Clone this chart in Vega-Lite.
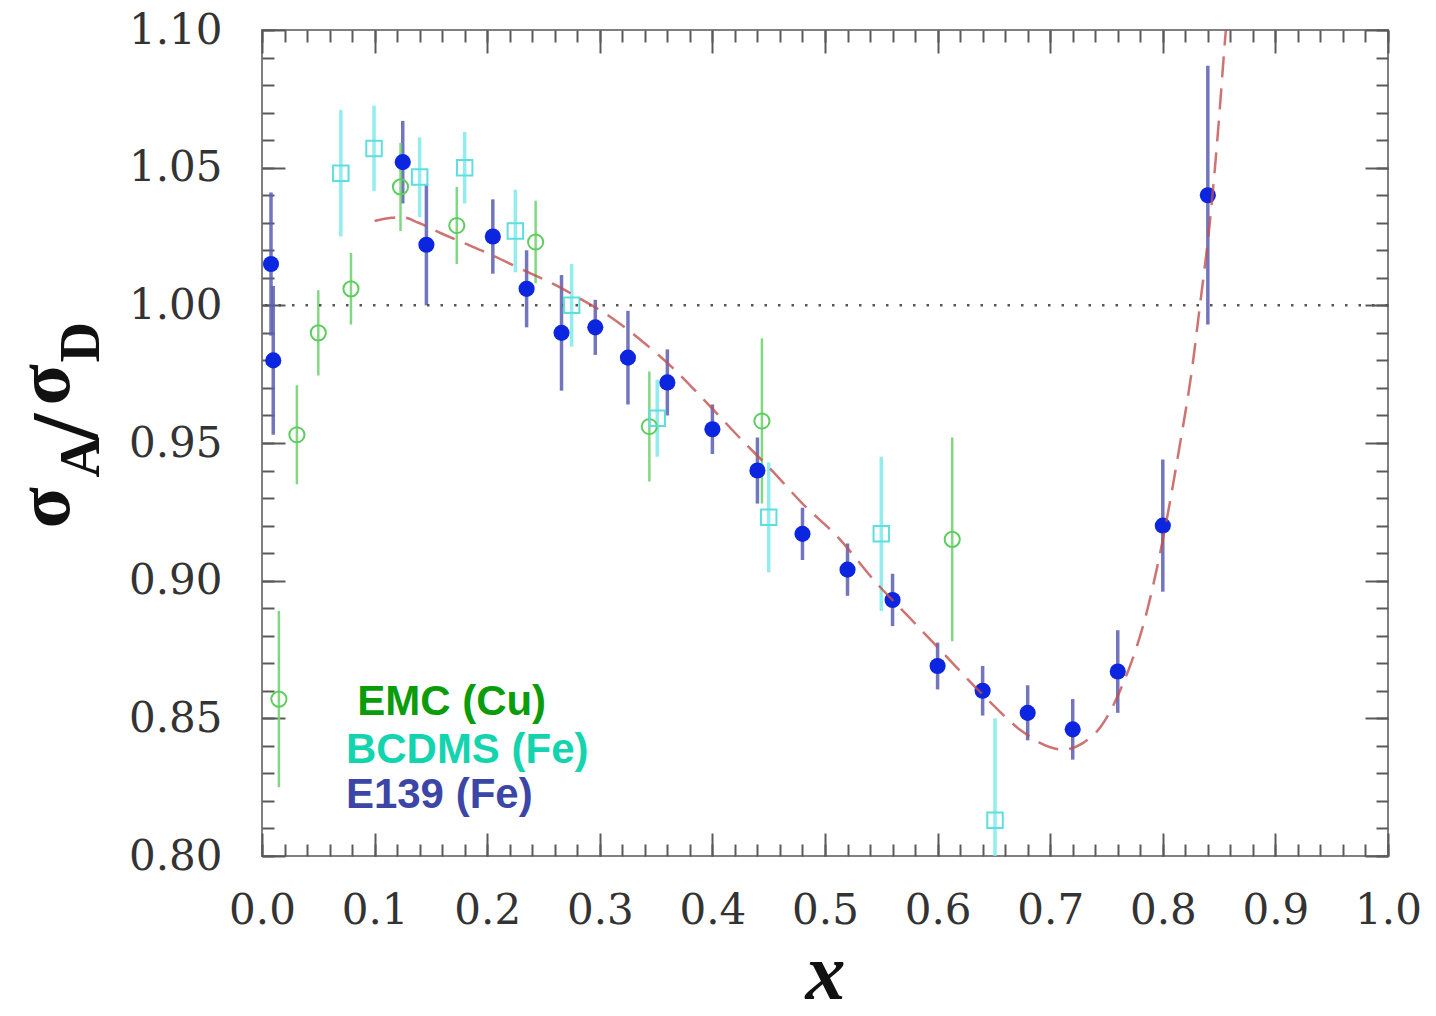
{
  "$schema": "https://vega.github.io/schema/vega-lite/v6.json",
  "width": 1126,
  "height": 826,
  "autosize": {"type": "none"},
  "padding": {"left": 262, "top": 30, "right": 48, "bottom": 160},
  "background": "white",
  "datasets": {
    "points": [
      {"series": "E139", "x": 0.008, "y": 1.015, "lo": 0.989, "hi": 1.041},
      {"series": "E139", "x": 0.010, "y": 0.980, "lo": 0.953, "hi": 1.007},
      {"series": "E139", "x": 0.125, "y": 1.052, "lo": 1.037, "hi": 1.067},
      {"series": "E139", "x": 0.146, "y": 1.022, "lo": 1.000, "hi": 1.044},
      {"series": "E139", "x": 0.205, "y": 1.025, "lo": 1.0115, "hi": 1.0385},
      {"series": "E139", "x": 0.235, "y": 1.006, "lo": 0.992, "hi": 1.020},
      {"series": "E139", "x": 0.266, "y": 0.990, "lo": 0.969, "hi": 1.011},
      {"series": "E139", "x": 0.296, "y": 0.992, "lo": 0.982, "hi": 1.002},
      {"series": "E139", "x": 0.325, "y": 0.981, "lo": 0.964, "hi": 0.998},
      {"series": "E139", "x": 0.360, "y": 0.972, "lo": 0.960, "hi": 0.984},
      {"series": "E139", "x": 0.400, "y": 0.955, "lo": 0.946, "hi": 0.964},
      {"series": "E139", "x": 0.440, "y": 0.940, "lo": 0.928, "hi": 0.952},
      {"series": "E139", "x": 0.480, "y": 0.917, "lo": 0.9075, "hi": 0.9265},
      {"series": "E139", "x": 0.520, "y": 0.904, "lo": 0.8945, "hi": 0.9135},
      {"series": "E139", "x": 0.560, "y": 0.893, "lo": 0.8835, "hi": 0.9025},
      {"series": "E139", "x": 0.600, "y": 0.869, "lo": 0.8605, "hi": 0.8775},
      {"series": "E139", "x": 0.640, "y": 0.860, "lo": 0.851, "hi": 0.869},
      {"series": "E139", "x": 0.680, "y": 0.852, "lo": 0.842, "hi": 0.862},
      {"series": "E139", "x": 0.720, "y": 0.846, "lo": 0.835, "hi": 0.857},
      {"series": "E139", "x": 0.760, "y": 0.867, "lo": 0.852, "hi": 0.882},
      {"series": "E139", "x": 0.800, "y": 0.920, "lo": 0.896, "hi": 0.944},
      {"series": "E139", "x": 0.840, "y": 1.040, "lo": 0.993, "hi": 1.087},
      {"series": "BCDMS", "x": 0.070, "y": 1.048, "lo": 1.025, "hi": 1.071},
      {"series": "BCDMS", "x": 0.0995, "y": 1.057, "lo": 1.0415, "hi": 1.0725},
      {"series": "BCDMS", "x": 0.140, "y": 1.0466, "lo": 1.032, "hi": 1.061},
      {"series": "BCDMS", "x": 0.180, "y": 1.050, "lo": 1.037, "hi": 1.063},
      {"series": "BCDMS", "x": 0.225, "y": 1.027, "lo": 1.012, "hi": 1.042},
      {"series": "BCDMS", "x": 0.275, "y": 1.000, "lo": 0.985, "hi": 1.015},
      {"series": "BCDMS", "x": 0.351, "y": 0.959, "lo": 0.945, "hi": 0.973},
      {"series": "BCDMS", "x": 0.450, "y": 0.923, "lo": 0.903, "hi": 0.943},
      {"series": "BCDMS", "x": 0.550, "y": 0.917, "lo": 0.889, "hi": 0.945},
      {"series": "BCDMS", "x": 0.651, "y": 0.813, "lo": 0.776, "hi": 0.850},
      {"series": "EMC", "x": 0.015, "y": 0.857, "lo": 0.825, "hi": 0.889},
      {"series": "EMC", "x": 0.031, "y": 0.953, "lo": 0.935, "hi": 0.971},
      {"series": "EMC", "x": 0.050, "y": 0.990, "lo": 0.9745, "hi": 1.0055},
      {"series": "EMC", "x": 0.079, "y": 1.006, "lo": 0.993, "hi": 1.019},
      {"series": "EMC", "x": 0.123, "y": 1.043, "lo": 1.027, "hi": 1.059},
      {"series": "EMC", "x": 0.173, "y": 1.029, "lo": 1.015, "hi": 1.043},
      {"series": "EMC", "x": 0.243, "y": 1.023, "lo": 1.008, "hi": 1.038},
      {"series": "EMC", "x": 0.344, "y": 0.956, "lo": 0.936, "hi": 0.976},
      {"series": "EMC", "x": 0.444, "y": 0.958, "lo": 0.928, "hi": 0.988},
      {"series": "EMC", "x": 0.613, "y": 0.915, "lo": 0.878, "hi": 0.952}
    ],
    "curve": [
      {"x": 0.100, "y": 1.0306}, {"x": 0.115, "y": 1.0318}, {"x": 0.125, "y": 1.0320},
      {"x": 0.139, "y": 1.0300}, {"x": 0.160, "y": 1.0260}, {"x": 0.180, "y": 1.0225},
      {"x": 0.200, "y": 1.0190}, {"x": 0.231, "y": 1.0130}, {"x": 0.260, "y": 1.0075},
      {"x": 0.280, "y": 1.0030}, {"x": 0.305, "y": 0.9970}, {"x": 0.336, "y": 0.9875},
      {"x": 0.368, "y": 0.9760}, {"x": 0.395, "y": 0.9646}, {"x": 0.424, "y": 0.9520},
      {"x": 0.454, "y": 0.9395}, {"x": 0.480, "y": 0.9280}, {"x": 0.511, "y": 0.9160},
      {"x": 0.546, "y": 0.8990}, {"x": 0.574, "y": 0.8870}, {"x": 0.602, "y": 0.8750},
      {"x": 0.644, "y": 0.8570}, {"x": 0.676, "y": 0.8450}, {"x": 0.700, "y": 0.8395},
      {"x": 0.711, "y": 0.8386}, {"x": 0.729, "y": 0.8410}, {"x": 0.745, "y": 0.8470},
      {"x": 0.762, "y": 0.8600}, {"x": 0.786, "y": 0.8890}, {"x": 0.802, "y": 0.9190},
      {"x": 0.815, "y": 0.9490}, {"x": 0.826, "y": 0.9770}, {"x": 0.833, "y": 1.0000},
      {"x": 0.842, "y": 1.0310}, {"x": 0.849, "y": 1.0630}, {"x": 0.855, "y": 1.0950},
      {"x": 0.857, "y": 1.1050}
    ]
  },
  "resolve": {"axis": {"x": "independent", "y": "independent"}},
  "layer": [
    {
      "data": {"name": "points"},
      "transform": [{"filter": "datum.series === 'E139'"}],
      "mark": {"type": "rule", "color": "#5a5db2", "strokeWidth": 3.5, "opacity": 0.85},
      "encoding": {
        "x": {"field": "x", "type": "quantitative",
          "scale": {"domain": [0, 1], "nice": false, "zero": false},
          "axis": {"orient": "bottom", "values": [0, 0.1, 0.2, 0.3, 0.4, 0.5, 0.6, 0.7, 0.8, 0.9, 1.0],
            "format": ".1f", "ticks": false, "tickSize": 0, "domain": false, "grid": false,
            "labelFont": "DejaVu Serif", "labelFontSize": 42, "labelColor": "#333",
            "labelBaseline": "alphabetic", "labelPadding": 67, "labelFlush": false, "labelOverlap": false, "labelBound": false,
            "title": "x", "titleFont": "Liberation Serif", "titleFontWeight": "bold", "titleFontStyle": "italic",
            "titleFontSize": 80, "titleColor": "#111", "titleX": 563, "titleY": 159,
            "titleAlign": "center", "titleBaseline": "bottom", "titleAngle": 0}},
        "y": {"field": "lo", "type": "quantitative",
          "scale": {"domain": [0.8, 1.1], "nice": false, "zero": false},
          "axis": {"orient": "left", "values": [0.8, 0.85, 0.9, 0.95, 1.0, 1.05, 1.1],
            "format": ".2f", "ticks": false, "tickSize": 0, "domain": false, "grid": false,
            "labelFont": "DejaVu Serif", "labelFontSize": 42, "labelColor": "#333",
            "labelPadding": 40, "labelFlush": false, "labelOverlap": false, "labelBound": false,
            "title": "σ", "titleFont": "Liberation Serif", "titleFontWeight": "bold", "titleFontSize": 76,
            "titleColor": "#111", "titleAngle": 270, "titleAlign": "left", "titleBaseline": "alphabetic",
            "titleX": -194, "titleY": 498}},
        "y2": {"field": "hi"}
      }
    },
    {
      "data": {"name": "points"},
      "transform": [{"filter": "datum.series === 'EMC'"}],
      "mark": {"type": "rule", "color": "#74d474", "strokeWidth": 2.5, "opacity": 0.9},
      "encoding": {
        "x": {"field": "x", "type": "quantitative",
          "scale": {"domain": [0, 1], "nice": false, "zero": false},
          "axis": {"orient": "bottom", "values": [0, 0.1, 0.2, 0.3, 0.4, 0.5, 0.6, 0.7, 0.8, 0.9, 1.0],
            "labels": false, "tickSize": -23, "tickColor": "#5a5a5a", "tickWidth": 2, "domain": false, "grid": false, "title": null}},
        "y": {"field": "lo", "type": "quantitative",
          "scale": {"domain": [0.8, 1.1], "nice": false, "zero": false},
          "axis": {"orient": "left", "values": [0.8, 0.85, 0.9, 0.95, 1.0, 1.05, 1.1],
            "labels": false, "tickSize": -23, "tickColor": "#5a5a5a", "tickWidth": 2, "domain": false, "grid": false,
            "title": "A", "titleFont": "Liberation Serif", "titleFontWeight": "bold", "titleFontSize": 56,
            "titleColor": "#111", "titleAngle": 270, "titleAlign": "left", "titleBaseline": "alphabetic",
            "titleX": -164, "titleY": 447}},
        "y2": {"field": "hi"}
      }
    },
    {
      "data": {"name": "points"},
      "transform": [{"filter": "datum.series === 'BCDMS'"}],
      "mark": {"type": "rule", "color": "#86ecec", "strokeWidth": 3.5, "opacity": 0.9, "clip": true},
      "encoding": {
        "x": {"field": "x", "type": "quantitative",
          "scale": {"domain": [0, 1], "nice": false, "zero": false},
          "axis": {"orient": "bottom", "values": [0, 0.02, 0.04, 0.06, 0.08, 0.1, 0.12, 0.14, 0.16, 0.18, 0.2, 0.22, 0.24, 0.26, 0.28, 0.3, 0.32, 0.34, 0.36, 0.38, 0.4, 0.42, 0.44, 0.46, 0.48, 0.5, 0.52, 0.54, 0.56, 0.58, 0.6, 0.62, 0.64, 0.66, 0.68, 0.7, 0.72, 0.74, 0.76, 0.78, 0.8, 0.82, 0.84, 0.86, 0.88, 0.9, 0.92, 0.94, 0.96, 0.98, 1.0],
            "labels": false, "tickSize": -12, "tickColor": "#5a5a5a", "tickWidth": 2, "domain": false, "grid": false, "title": null}},
        "y": {"field": "lo", "type": "quantitative",
          "scale": {"domain": [0.8, 1.1], "nice": false, "zero": false},
          "axis": {"orient": "left", "values": [0.8, 0.81, 0.82, 0.83, 0.84, 0.85, 0.86, 0.87, 0.88, 0.89, 0.9, 0.91, 0.92, 0.93, 0.94, 0.95, 0.96, 0.97, 0.98, 0.99, 1.0, 1.01, 1.02, 1.03, 1.04, 1.05, 1.06, 1.07, 1.08, 1.09, 1.1],
            "labels": false, "tickSize": -12, "tickColor": "#5a5a5a", "tickWidth": 2, "domain": false, "grid": false,
            "title": "/", "titleFont": "Liberation Serif", "titleFontWeight": "bold", "titleFontSize": 96,
            "titleColor": "#111", "titleAngle": 270, "titleAlign": "left", "titleBaseline": "alphabetic",
            "titleX": -166, "titleY": 410}},
        "y2": {"field": "hi"}
      }
    },
    {
      "data": {"values": [{}]},
      "mark": {"type": "rule", "color": "#555555", "strokeWidth": 2.5, "strokeDash": [2.5, 11]},
      "encoding": {
        "y": {"datum": 1.0, "type": "quantitative", "axis": null}
      }
    },
    {
      "data": {"name": "points"},
      "transform": [{"filter": "datum.series === 'E139'"}],
      "mark": {"type": "point", "shape": "circle", "filled": true, "color": "#0c26e0", "size": 260, "opacity": 1},
      "encoding": {
        "x": {"field": "x", "type": "quantitative",
          "scale": {"domain": [0, 1], "nice": false, "zero": false},
          "axis": {"orient": "top", "values": [0, 0.1, 0.2, 0.3, 0.4, 0.5, 0.6, 0.7, 0.8, 0.9, 1.0],
            "labels": false, "tickSize": -23, "tickColor": "#5a5a5a", "tickWidth": 2, "domain": false, "grid": false, "title": null}},
        "y": {"field": "y", "type": "quantitative",
          "scale": {"domain": [0.8, 1.1], "nice": false, "zero": false},
          "axis": {"orient": "right", "values": [0.8, 0.85, 0.9, 0.95, 1.0, 1.05, 1.1],
            "labels": false, "tickSize": -23, "tickColor": "#5a5a5a", "tickWidth": 2, "domain": false, "grid": false,
            "title": "σ", "titleFont": "Liberation Serif", "titleFontWeight": "bold", "titleFontSize": 76,
            "titleColor": "#111", "titleAngle": 270, "titleAlign": "left", "titleBaseline": "alphabetic",
            "titleX": -1320, "titleY": 375}}
      }
    },
    {
      "data": {"name": "points"},
      "transform": [{"filter": "datum.series === 'EMC'"}],
      "mark": {"type": "point", "shape": "circle", "filled": false, "color": "#5fcc5f", "size": 230, "strokeWidth": 2, "opacity": 1},
      "encoding": {
        "x": {"field": "x", "type": "quantitative",
          "scale": {"domain": [0, 1], "nice": false, "zero": false},
          "axis": {"orient": "top", "values": [0, 0.02, 0.04, 0.06, 0.08, 0.1, 0.12, 0.14, 0.16, 0.18, 0.2, 0.22, 0.24, 0.26, 0.28, 0.3, 0.32, 0.34, 0.36, 0.38, 0.4, 0.42, 0.44, 0.46, 0.48, 0.5, 0.52, 0.54, 0.56, 0.58, 0.6, 0.62, 0.64, 0.66, 0.68, 0.7, 0.72, 0.74, 0.76, 0.78, 0.8, 0.82, 0.84, 0.86, 0.88, 0.9, 0.92, 0.94, 0.96, 0.98, 1.0],
            "labels": false, "tickSize": -12, "tickColor": "#5a5a5a", "tickWidth": 2, "domain": false, "grid": false, "title": null}},
        "y": {"field": "y", "type": "quantitative",
          "scale": {"domain": [0.8, 1.1], "nice": false, "zero": false},
          "axis": {"orient": "right", "values": [0.8, 0.81, 0.82, 0.83, 0.84, 0.85, 0.86, 0.87, 0.88, 0.89, 0.9, 0.91, 0.92, 0.93, 0.94, 0.95, 0.96, 0.97, 0.98, 0.99, 1.0, 1.01, 1.02, 1.03, 1.04, 1.05, 1.06, 1.07, 1.08, 1.09, 1.1],
            "labels": false, "tickSize": -12, "tickColor": "#5a5a5a", "tickWidth": 2, "domain": false, "grid": false,
            "title": "D", "titleFont": "Liberation Serif", "titleFontWeight": "bold", "titleFontSize": 56,
            "titleColor": "#111", "titleAngle": 270, "titleAlign": "left", "titleBaseline": "alphabetic",
            "titleX": -1290, "titleY": 332}}
      }
    },
    {
      "data": {"name": "points"},
      "transform": [{"filter": "datum.series === 'BCDMS'"}],
      "mark": {"type": "point", "shape": "square", "filled": false, "color": "#5fdede", "size": 240, "strokeWidth": 2, "opacity": 1, "clip": true},
      "encoding": {
        "x": {"field": "x", "type": "quantitative", "scale": {"domain": [0, 1], "nice": false, "zero": false}, "axis": null},
        "y": {"field": "y", "type": "quantitative", "scale": {"domain": [0.8, 1.1], "nice": false, "zero": false}, "axis": null}
      }
    },
    {
      "data": {"name": "curve"},
      "mark": {"type": "line", "color": "#c0504d", "strokeWidth": 2.5, "strokeDash": [21, 11], "opacity": 0.8, "interpolate": "monotone", "clip": true},
      "encoding": {
        "x": {"field": "x", "type": "quantitative", "scale": {"domain": [0, 1], "nice": false, "zero": false}, "axis": null},
        "y": {"field": "y", "type": "quantitative", "scale": {"domain": [0.8, 1.1], "nice": false, "zero": false}, "axis": null}
      }
    },
    {
      "data": {"values": [{}]},
      "mark": {"type": "text", "text": "EMC (Cu)", "align": "left", "baseline": "alphabetic", "font": "Liberation Sans", "fontWeight": "bold", "fontSize": 42, "color": "#0a9c0a"},
      "encoding": {
        "x": {"datum": 0.0845, "type": "quantitative", "axis": null},
        "y": {"datum": 0.8512, "type": "quantitative", "axis": null}
      }
    },
    {
      "data": {"values": [{}]},
      "mark": {"type": "text", "text": "BCDMS (Fe)", "align": "left", "baseline": "alphabetic", "font": "Liberation Sans", "fontWeight": "bold", "fontSize": 42, "color": "#14d4b0"},
      "encoding": {
        "x": {"datum": 0.0745, "type": "quantitative", "axis": null},
        "y": {"datum": 0.8338, "type": "quantitative", "axis": null}
      }
    },
    {
      "data": {"values": [{}]},
      "mark": {"type": "text", "text": "E139 (Fe)", "align": "left", "baseline": "alphabetic", "font": "Liberation Sans", "fontWeight": "bold", "fontSize": 42, "color": "#3c46a6"},
      "encoding": {
        "x": {"datum": 0.0745, "type": "quantitative", "axis": null},
        "y": {"datum": 0.8174, "type": "quantitative", "axis": null}
      }
    }
  ],
  "config": {
    "view": {"stroke": "#808080", "strokeWidth": 2},
    "axis": {"grid": false, "domain": false}
  }
}
